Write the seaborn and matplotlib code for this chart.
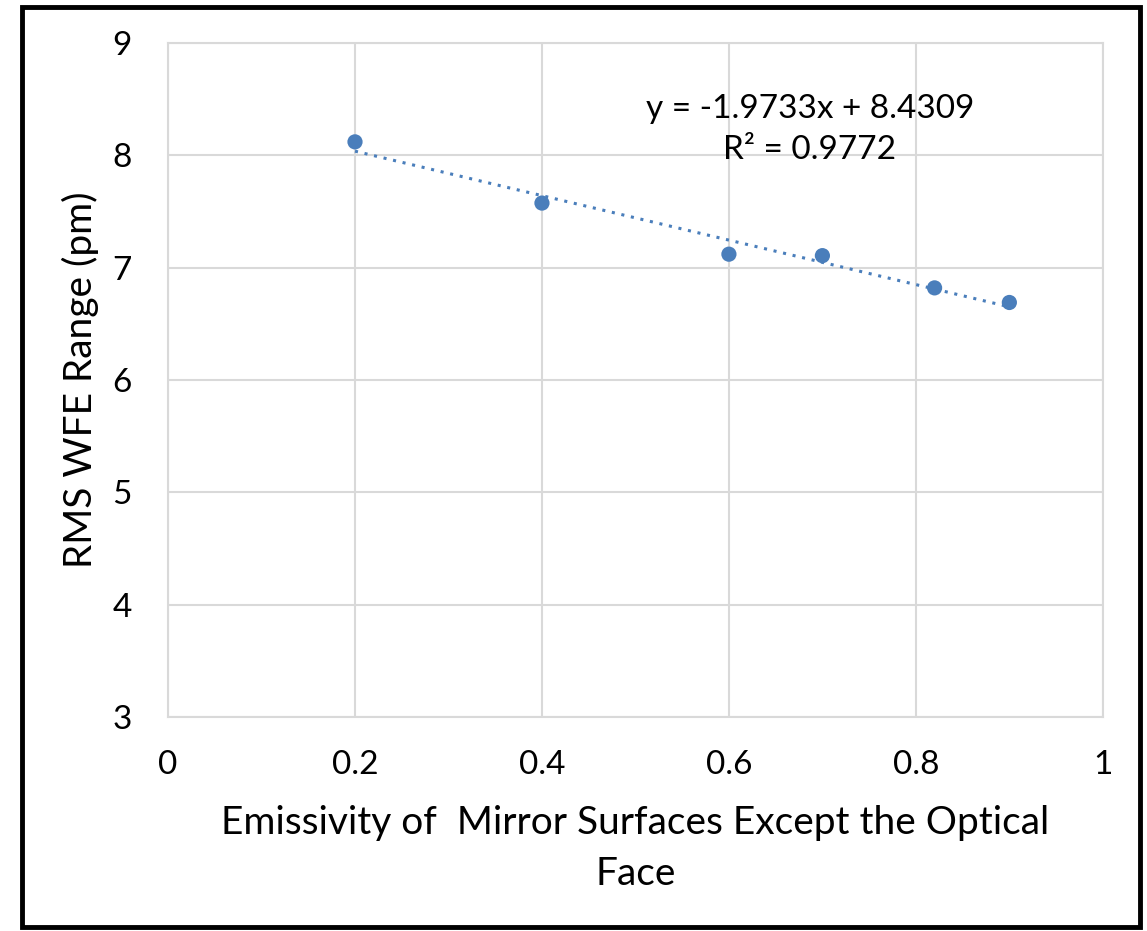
import numpy as np
import pandas as pd
import matplotlib
matplotlib.use("Agg")
import matplotlib.pyplot as plt
import seaborn as sns
from matplotlib.patches import Rectangle

# Data
emissivity = [0.2, 0.4, 0.6, 0.7, 0.82, 0.9]
rms_wfe = [8.12, 7.575, 7.12, 7.107, 6.82, 6.69]
x_ticks = [0, 0.2, 0.4, 0.6, 0.8, 1]
x_tick_labels = ["0", "0.2", "0.4", "0.6", "0.8", "1"]
y_ticks = [3, 4, 5, 6, 7, 8, 9]
fit_label = "y = -1.9733x + 8.4309\nR² = 0.9772"

df = pd.DataFrame({"Emissivity": emissivity, "RMS": rms_wfe})

sns.set_style("whitegrid")
plt.rcParams["font.family"] = ["Lato", "DejaVu Sans"]

point_color = "#4a7ebb"
grid_color = "#d9d9d9"

fig = plt.figure(figsize=(11.47, 9.31), dpi=100)
ax = fig.add_axes([0.1465, 0.2299, 0.815, 0.7239])

# dotted linear trendline over the data range
sns.regplot(data=df, x="Emissivity", y="RMS", ax=ax, ci=None, scatter=False,
            truncate=True, color=point_color,
            line_kws={"linestyle": (0, (1, 2.2)), "linewidth": 2.2})
sns.scatterplot(data=df, x="Emissivity", y="RMS", ax=ax, color=point_color,
                s=120, edgecolor="none", zorder=5)

ax.set_xlim(0, 1)
ax.set_ylim(3, 9)
ax.set_xticks(x_ticks)
ax.set_xticklabels(x_tick_labels)
ax.set_yticks(y_ticks)
ax.tick_params(axis="x", labelsize=24, pad=24, length=0, colors="black")
ax.tick_params(axis="y", labelsize=24, pad=26, length=0, colors="black")
ax.grid(True, color=grid_color, linewidth=1.5)
for sp in ax.spines.values():
    sp.set_color(grid_color)
    sp.set_linewidth(1.5)

ax.set_xlabel("Emissivity of  Mirror Surfaces Except the Optical\nFace",
              fontsize=28, labelpad=18, color="black", linespacing=1.5)
ax.set_ylabel("RMS WFE Range (pm)", fontsize=28, labelpad=10, color="black")

ax.text(0.6866, 8.23, fit_label, fontsize=24, ha="center", va="center",
        linespacing=1.45, color="black")

# black frame around the whole figure
fig.patches.append(Rectangle((0.0192, 0.0043), 0.9747, 0.9877, transform=fig.transFigure,
                             fill=False, edgecolor="black", linewidth=3.5))

fig.savefig("out.png", dpi=100)
